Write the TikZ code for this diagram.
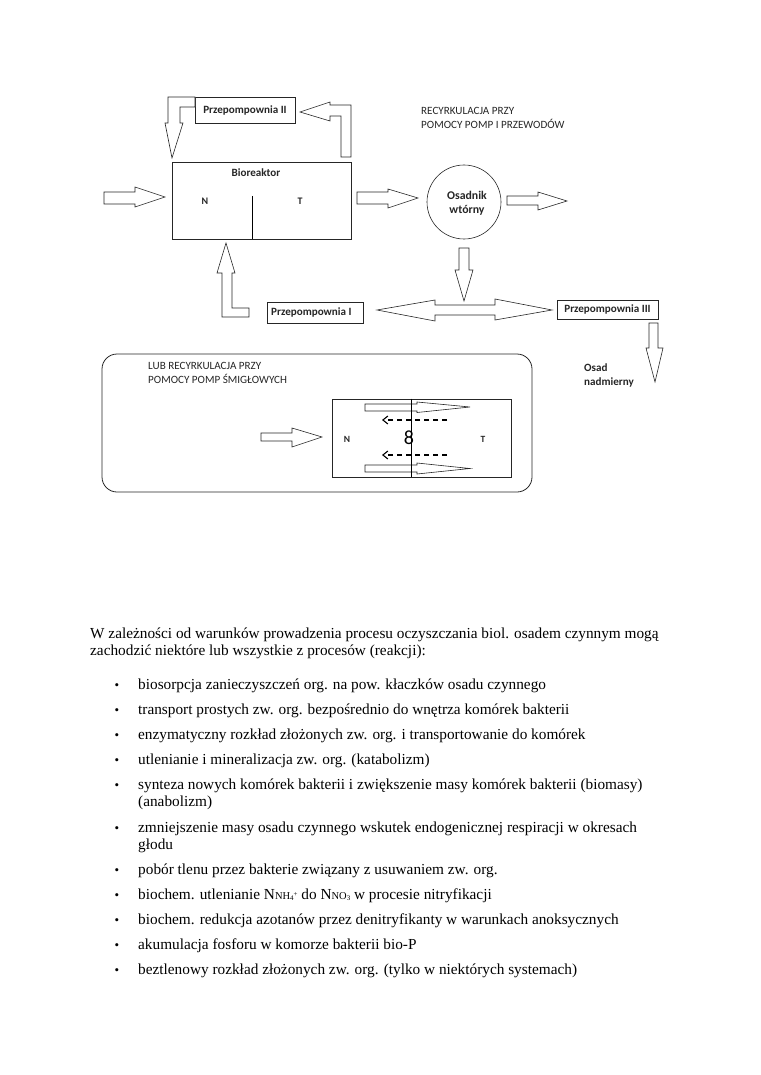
\documentclass[tikz,border=0pt]{standalone}
\usepackage{fontspec}
\setmainfont{Liberation Serif}
\newfontfamily\calib{Carlito}
\usetikzlibrary{arrows.meta}
\newcommand\smN[1]{{\fontsize{10.5}{10}\selectfont #1}}
\newcommand\tinyix[1]{{\fontsize{7}{7}\selectfont #1}}
\begin{document}
\begin{tikzpicture}[x=1pt,y=-1pt,
  blk/.style={draw=black!85, fill=white, line width=0.6pt, line join=miter},
  boxx/.style={draw=black!85, line width=0.7pt, inner sep=0pt},
  lbl/.style={font=\calib\bfseries\fontsize{11.1}{13}\selectfont, inner sep=0pt, text=black!85},
  captxt/.style={font=\calib\fontsize{11.1}{13}\selectfont, inner sep=0pt, anchor=base west, text=black!85},
  body/.style={font=\fontsize{15.3}{17}\selectfont, anchor=base west, inner sep=0pt},
  bul/.style={font=\fontsize{13}{17}\selectfont, anchor=base, inner sep=0pt},
  dsh/.style={dashed, dash pattern=on 5pt off 4pt, line width=1.1pt, -{Straight Barb[length=5pt,width=8pt]}}]
\useasboundingbox (0,0) rectangle (760,1075);

% ---------- upper diagram ----------
\node[boxx, minimum width=100pt, minimum height=26pt] (p2) at (245,110) {};
\node[lbl] at (p2.center) {Przepompownia II};

\node[boxx, minimum width=179pt, minimum height=77pt] (bio) at (261.5,200.5) {};
\node[lbl] (biot) at (256,173) {Bioreaktor};
\node[lbl, font=\calib\bfseries\fontsize{10}{12}\selectfont] (bioN) at (205,201) {N};
\node[lbl, font=\calib\bfseries\fontsize{10}{12}\selectfont] (bioT) at (300,201) {T};
\coordinate (dv1) at (252,196);
\draw[line width=0.8pt] (dv1) -- (dv1 |- bio.south);

% L-arrow Przepompownia II -> Bioreaktor
\draw[blk] (195,97) -- (168,97) -- (168,123) -- (165,123) -- (172,158) -- (183,123) -- (180,123) -- (180,107) -- (195,107) -- cycle;
% L-arrow Bioreaktor -> Przepompownia II
\draw[blk] (341,157) -- (341,116) -- (330,116) -- (330,121) -- (300,112) -- (330,102) -- (330,105) -- (351,105) -- (351,157) -- cycle;
% inflow
\draw[blk] (104,192) -- (135,192) -- (135,187) -- (165,197) -- (135,207) -- (135,204) -- (104,204) -- cycle;
% bioreactor -> settler
\draw[blk] (357,192) -- (388,192) -- (388,189) -- (418,198) -- (388,208) -- (388,204) -- (357,204) -- cycle;

\node[draw=black!85, circle, minimum size=74pt, line width=0.6pt, inner sep=0pt] (os) at (464,202) {};
\node[lbl, font=\calib\bfseries\fontsize{11.8}{13.5}\selectfont, align=center] at (467,203.5) {Osadnik\\wtórny};

% settler -> out
\draw[blk] (507,196) -- (538,196) -- (538,192) -- (567,201) -- (538,210) -- (538,205) -- (507,205) -- cycle;

\node[captxt] (rc1) at (421,115) {RECYRKULACJA PRZY};
\node[captxt] (rc2) at (421,129) {POMOCY POMP I PRZEWODÓW};

% settler down
\draw[blk] (459,248) -- (459,270) -- (455,270) -- (464,301) -- (473,270) -- (469,270) -- (469,248) -- cycle;
% double arrow
\draw[blk] (377,310) -- (435,300) -- (435,305) -- (495,305) -- (495,299) -- (552,310) -- (495,320) -- (495,315) -- (435,315) -- (435,321) -- cycle;

\node[boxx, minimum width=96pt, minimum height=21pt] (p1) at (315,312.5) {};
\node[lbl, anchor=west] at (271,312.5) {Przepompownia I};

% L-arrow Przepompownia I -> Bioreaktor
\draw[blk] (249,308) -- (232,308) -- (232,273) -- (235,273) -- (226,243) -- (217,273) -- (222,273) -- (222,317) -- (249,317) -- cycle;

\node[boxx, minimum width=101pt, minimum height=19pt] (p3) at (607.5,309.5) {};
\node[lbl] at (p3.center) {Przepompownia III};

% Przepompownia III down
\draw[blk] (649,323) -- (649,348) -- (646,348) -- (655,382) -- (663,348) -- (658,348) -- (658,323) -- cycle;
\node[lbl, anchor=base west] at (584,371) {Osad};
\node[lbl, anchor=base west] at (584,385) {nadmierny};

% ---------- lower diagram ----------
\draw[draw=black!85, line width=0.8pt, rounded corners=15pt] (102,354) rectangle (532,492);
\node[captxt] (lr1) at (148,369) {LUB RECYRKULACJA PRZY};
\node[captxt] (lr2) at (148,383) {POMOCY POMP ŚMIGŁOWYCH};

\node[boxx, minimum width=179pt, minimum height=78pt] (ib) at (421.5,438) {};
\draw[blk] (261,433) -- (292,433) -- (292,428) -- (322,437) -- (292,447) -- (292,441) -- (261,441) -- cycle;
\node[lbl, font=\calib\bfseries\fontsize{9.5}{11}\selectfont] at (347,439) {N};
\node[lbl, font=\calib\bfseries\fontsize{9.5}{11}\selectfont] at (483,439) {T};

\draw[blk] (365,404) -- (417,404) -- (417,402) -- (470,407) -- (417,412.5) -- (417,411) -- (365,411) -- cycle;
\draw[blk] (365,465) -- (417,465) -- (417,463) -- (470,468.5) -- (417,474) -- (417,472) -- (365,472) -- cycle;
\coordinate (da1) at (447,420);
\coordinate (db1) at (447,455);
\draw[dsh] (da1) -- (382,420);
\draw[dsh] (db1) -- (382,455);
\draw[line width=0.8pt] (ib.north -| 411,0) -- (ib.south -| 411,0);
\node[font=\calib\fontsize{20}{21}\selectfont, inner sep=0pt] at (409,438) {8};

% ---------- text ----------
\node[body] at (90,638) {W zależności od warunków prowadzenia procesu oczyszczania biol. osadem czynnym mogą};
\node[body] at (90,655) {zachodzić niektóre lub wszystkie z procesów (reakcji):};

\foreach \y/\t in {
 689/{biosorpcja zanieczyszczeń org. na pow. kłaczków osadu czynnego},
 714/{transport prostych zw. org. bezpośrednio do wnętrza komórek bakterii},
 739/{enzymatyczny rozkład złożonych zw. org. i transportowanie do komórek},
 764/{utlenianie i mineralizacja zw. org. (katabolizm)},
 789/{synteza nowych komórek bakterii i zwiększenie masy komórek bakterii (biomasy)},
 832/{zmniejszenie masy osadu czynnego wskutek endogenicznej respiracji w okresach},
 874/{pobór tlenu przez bakterie związany z usuwaniem zw. org.},
 899/{biochem. utlenianie N\smN{NH}\raisebox{-1pt}{\tinyix{4}}\raisebox{3pt}{\tinyix{+}} do N\smN{NO}\raisebox{-1pt}{\tinyix{3}} w procesie nitryfikacji},
 924/{biochem. redukcja azotanów przez denitryfikanty w warunkach anoksycznych},
 949/{akumulacja fosforu w komorze bakterii bio-P},
 974/{beztlenowy rozkład złożonych zw. org. (tylko w niektórych systemach)}}
{
  \node[bul] at (117,\y) {•};
  \node[body] at (138,\y) {\t};
}
\node[body] at (138,806) {(anabolizm)};
\node[body] at (138,849) {głodu};
\end{tikzpicture}
\end{document}
